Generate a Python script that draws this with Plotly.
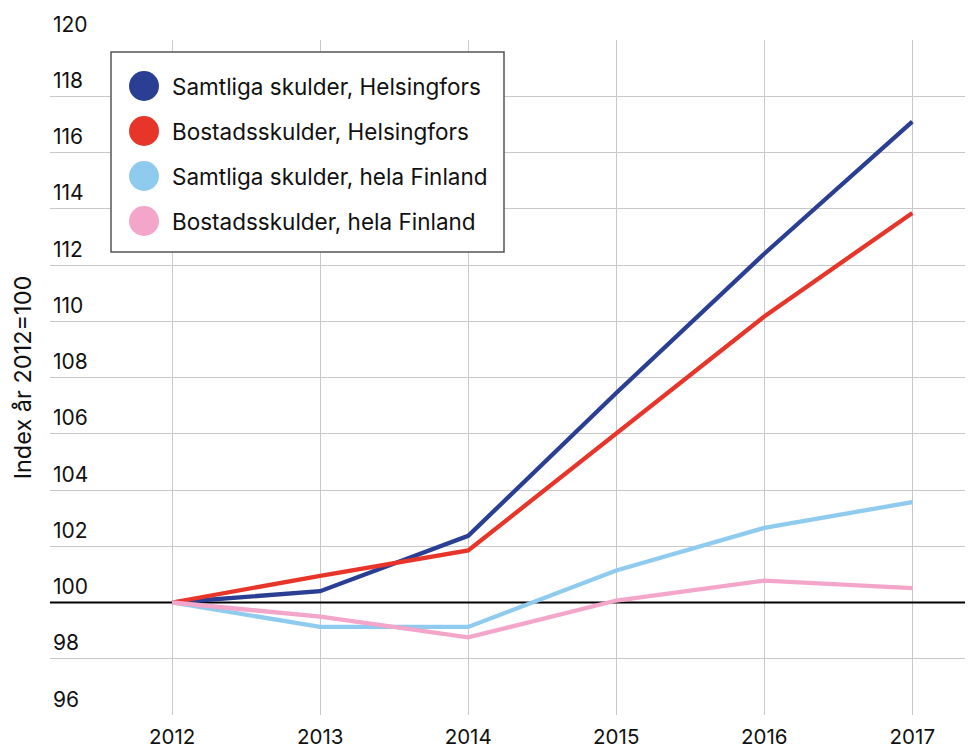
import plotly.graph_objects as go

years = [2012, 2013, 2014, 2015, 2016, 2017]
samtliga_helsingfors = [100, 100.4, 102.37, 107.45, 112.4, 117.1]
bostad_helsingfors = [100, 100.95, 101.85, 106.0, 110.17, 113.85]
samtliga_finland = [100, 99.13, 99.13, 101.14, 102.65, 103.57]
bostad_finland = [100, 99.5, 98.76, 100.07, 100.78, 100.51]

series_names = [
    "Samtliga skulder, Helsingfors",
    "Bostadsskulder, Helsingfors",
    "Samtliga skulder, hela Finland",
    "Bostadsskulder, hela Finland",
]
series_values = [samtliga_helsingfors, bostad_helsingfors, samtliga_finland, bostad_finland]
colors = ["#2A3F93", "#E8352A", "#8FCBEE", "#F3A6C9"]

y_ticks = list(range(96, 121, 2))
y_title = "Index år 2012=100"
base_value = 100
x_range = [2011.175, 2017.41]

FONT = "Inter"
TXT = "#111111"
OFF = 8  # page body margin
W, H = 973 - OFF, 749 - OFF
ML, MR, MT, MB = 50 - OFF, 0, 40 - OFF, 34
pw, ph = W - ML - MR, H - MT - MB

def px(x):
    return (x - OFF - ML) / pw

def py(y):
    return (H - MB - (y - OFF)) / ph

fig = go.Figure()
# base reference line (index = 100), drawn under the data lines
fig.add_trace(go.Scatter(x=x_range, y=[base_value, base_value], mode="lines",
                         line=dict(color="black", width=2), hoverinfo="skip",
                         showlegend=False))
for name, vals, col in zip(series_names, series_values, colors):
    fig.add_trace(go.Scatter(x=years, y=vals, mode="lines", name=name,
                             line=dict(color=col, width=4.3), showlegend=False))

shapes = [
    dict(type="rect", xref="paper", yref="paper",
         x0=px(111), x1=px(504), y0=py(252), y1=py(52),
         fillcolor="white", line=dict(color="#555555", width=1.5), layer="above"),
]
annotations = []
row_y = [86, 131, 176, 221]
for name, col, ry in zip(series_names, colors, row_y):
    shapes.append(dict(type="circle", xref="paper", yref="paper",
                       x0=px(129), x1=px(159), y0=py(ry + 15), y1=py(ry - 15),
                       fillcolor=col, line=dict(width=0), layer="above"))
    annotations.append(dict(xref="paper", yref="paper", x=px(170), y=py(ry),
                            xanchor="left", yanchor="middle", showarrow=False,
                            text=name, font=dict(family=FONT, size=22.5, color=TXT)))

fig.update_layout(
    width=W, height=H,
    margin=dict(l=ML, r=MR, t=MT, b=MB, autoexpand=False),
    plot_bgcolor="white", paper_bgcolor="white",
    font=dict(family=FONT, size=20, color=TXT),
    shapes=shapes, annotations=annotations,
    showlegend=False,
)
fig.update_xaxes(range=x_range, tickvals=years, ticktext=[str(y) for y in years],
                 showgrid=True, gridcolor="#C8C8C8", gridwidth=1.3, zeroline=False,
                 showline=False, ticks="", automargin=False, ticklabelstandoff=7,
                 tickfont=dict(family=FONT, size=20.5, color=TXT))
fig.update_yaxes(range=[96, 120], tickvals=y_ticks, ticktext=[str(t) for t in y_ticks],
                 showgrid=True, gridcolor="#C8C8C8", gridwidth=1.3, zeroline=False,
                 showline=False, ticks="", ticklabelposition="inside top",
                 ticklabeloverflow="allow", automargin=False, ticklabelshift=-1,
                 tickfont=dict(family=FONT, size=21, color=TXT),
                 title=dict(text=y_title, font=dict(family=FONT, size=23.5, color=TXT), standoff=26))

fig.write_html("out.html")
